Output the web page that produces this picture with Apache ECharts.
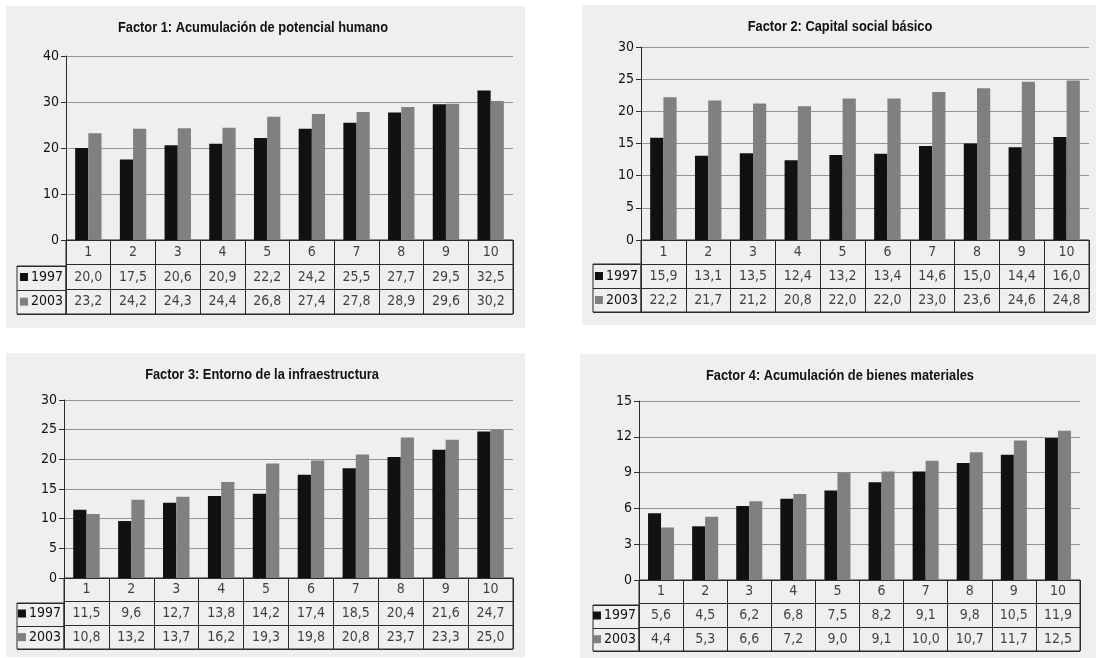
<!DOCTYPE html>
<html>
<head>
<meta charset="utf-8">
<title>Factores 1997 - 2003</title>
<script src="https://cdn.jsdelivr.net/npm/echarts@6/dist/echarts.min.js"></script>
<style>
  html, body { margin: 0; padding: 0; background: #ffffff; }
  #chart { width: 1096px; height: 658px; }
</style>
</head>
<body>
<div id="chart"></div>
<script>
// Decile groups shown on the category axis and in the table header row
const categories = ['1', '2', '3', '4', '5', '6', '7', '8', '9', '10'];
const seriesNames = ['1997', '2003'];

// Factor 1: Acumulación de potencial humano
const f1Title = 'Factor 1: Acumulación de potencial humano';
const f1_1997 = [20.0, 17.5, 20.6, 20.9, 22.2, 24.2, 25.5, 27.7, 29.5, 32.5];
const f1_2003 = [23.2, 24.2, 24.3, 24.4, 26.8, 27.4, 27.8, 28.9, 29.6, 30.2];
const f1Axis = { max: 40, interval: 10 };

// Factor 2: Capital social básico
const f2Title = 'Factor 2: Capital social básico';
const f2_1997 = [15.9, 13.1, 13.5, 12.4, 13.2, 13.4, 14.6, 15.0, 14.4, 16.0];
const f2_2003 = [22.2, 21.7, 21.2, 20.8, 22.0, 22.0, 23.0, 23.6, 24.6, 24.8];
const f2Axis = { max: 30, interval: 5 };

// Factor 3: Entorno de la infraestructura
const f3Title = 'Factor 3: Entorno de la infraestructura';
const f3_1997 = [11.5, 9.6, 12.7, 13.8, 14.2, 17.4, 18.5, 20.4, 21.6, 24.7];
const f3_2003 = [10.8, 13.2, 13.7, 16.2, 19.3, 19.8, 20.8, 23.7, 23.3, 25.0];
const f3Axis = { max: 30, interval: 5 };

// Factor 4: Acumulación de bienes materiales
const f4Title = 'Factor 4: Acumulación de bienes materiales';
const f4_1997 = [5.6, 4.5, 6.2, 6.8, 7.5, 8.2, 9.1, 9.8, 10.5, 11.9];
const f4_2003 = [4.4, 5.3, 6.6, 7.2, 9.0, 9.1, 10.0, 10.7, 11.7, 12.5];
const f4Axis = { max: 15, interval: 3 };

// ---- styling ----
const FONT = '"Liberation Sans Narrow", "Arial Narrow", "DejaVu Sans Condensed", sans-serif';
const TITLE_FONT = '"Liberation Sans", Arial, sans-serif';
const TEXT = '#111111';
const DARK = '#2b2b2b';
const GRIDLINE = '#939393';
const PANEL_BG = '#efefef';
const COLORS = ['#111111', '#808080'];

// Panel geometry (pixels): background box, plot area, table rows, title centre
const panels = [
  { title: f1Title, a: f1_1997, b: f1_2003, axis: f1Axis,
    bg: [6, 6, 519, 322], titleX: 253, titleY: 28,
    plot: { left: 66, top: 56, width: 447, height: 184 },
    table: { top: 240, rows: [26, 24, 24] }, labelLeft: 17 },
  { title: f2Title, a: f2_1997, b: f2_2003, axis: f2Axis,
    bg: [582, 5, 514, 320], titleX: 840, titleY: 27,
    plot: { left: 641, top: 47, width: 448, height: 193 },
    table: { top: 240, rows: [24, 25, 23] }, labelLeft: 593 },
  { title: f3Title, a: f3_1997, b: f3_2003, axis: f3Axis,
    bg: [6, 353, 519, 304], titleX: 262, titleY: 375,
    plot: { left: 64, top: 400, width: 449, height: 178 },
    table: { top: 578, rows: [25, 24, 22] }, labelLeft: 17 },
  { title: f4Title, a: f4_1997, b: f4_2003, axis: f4Axis,
    bg: [580, 354, 516, 304], titleX: 840, titleY: 376,
    plot: { left: 639, top: 401, width: 441, height: 179 },
    table: { top: 580, rows: [25, 24, 22] }, labelLeft: 593 }
];

const fmt = v => v.toFixed(1).replace('.', ',');

const option = {
  animation: false,
  backgroundColor: '#ffffff',
  textStyle: { fontFamily: FONT },
  grid: [],
  xAxis: [],
  yAxis: [],
  series: [],
  graphic: []
};

panels.forEach((p) => {
  const g0 = option.grid.length;

  // panel background
  option.graphic.push({
    type: 'rect', z: -10, silent: true,
    shape: { x: p.bg[0], y: p.bg[1], width: p.bg[2], height: p.bg[3] },
    style: { fill: PANEL_BG }
  });

  // panel title, horizontally condensed bold sans
  option.graphic.push({
    type: 'text', silent: true, z: 10,
    x: p.titleX, y: p.titleY, originX: 0, originY: 0, scaleX: 0.855,
    style: {
      text: p.title, fill: TEXT, align: 'center', verticalAlign: 'middle',
      font: 'bold 15px ' + TITLE_FONT
    }
  });

  const tableH = p.table.rows.reduce((s, r) => s + r, 0);
  const headerH = p.table.rows[0];

  // plot area
  option.grid.push({ left: p.plot.left, top: p.plot.top, width: p.plot.width, height: p.plot.height });
  // table body (header row + two data rows), aligned with the plot's categories
  option.grid.push({
    left: p.plot.left, top: p.table.top, width: p.plot.width, height: tableH,
    show: true, borderColor: DARK, borderWidth: 1, backgroundColor: 'transparent'
  });
  // legend column on the left of the two data rows
  option.grid.push({
    left: p.labelLeft, top: p.table.top + headerH,
    width: p.plot.left - p.labelLeft, height: tableH - headerH,
    show: true, borderColor: DARK, borderWidth: 1, backgroundColor: 'transparent'
  });

  // --- plot axes ---
  option.xAxis.push({
    type: 'category', gridIndex: g0, data: categories,
    axisLine: { show: true, lineStyle: { color: DARK, width: 1 } },
    axisTick: { show: false }, axisLabel: { show: false }, splitLine: { show: false }
  });
  option.yAxis.push({
    type: 'value', gridIndex: g0, min: 0, max: p.axis.max, interval: p.axis.interval,
    axisLine: { show: true, lineStyle: { color: DARK, width: 1 } },
    axisTick: { show: true, length: 5, lineStyle: { color: DARK } },
    axisLabel: { color: TEXT, fontSize: 14, fontFamily: FONT, margin: 7 },
    splitLine: { show: true, lineStyle: { color: GRIDLINE, width: 1 } }
  });

  // --- table axes ---
  option.xAxis.push({
    type: 'category', gridIndex: g0 + 1, data: categories,
    axisLine: { show: false }, axisTick: { show: false }, axisLabel: { show: false },
    splitLine: { show: true, interval: 0, lineStyle: { color: DARK, width: 1 } }
  });
  option.yAxis.push({
    type: 'category', gridIndex: g0 + 1, inverse: true,
    data: ['', seriesNames[0], seriesNames[1]],
    axisLine: { show: false }, axisTick: { show: false },
    splitLine: { show: true, interval: 0, lineStyle: { color: DARK, width: 1 } },
    axisLabel: {
      margin: 3, fontFamily: FONT, fontSize: 14, color: TEXT,
      formatter: v => v === '' ? '' : (v === seriesNames[0] ? '{k0|}' : '{k1|}') + '{t|' + v + '}',
      rich: {
        k0: { width: 8, height: 8, backgroundColor: COLORS[0] },
        k1: { width: 8, height: 8, backgroundColor: COLORS[1] },
        t: { fontFamily: FONT, fontSize: 14, color: TEXT, padding: [0, 0, 0, 3] }
      }
    }
  });

  // --- legend column axes ---
  option.xAxis.push({
    type: 'value', gridIndex: g0 + 2, show: false, min: 0, max: 1
  });
  option.yAxis.push({
    type: 'category', gridIndex: g0 + 2, data: ['a', 'b'],
    axisLine: { show: false }, axisTick: { show: false }, axisLabel: { show: false },
    splitLine: { show: true, interval: 0, lineStyle: { color: DARK, width: 1 } }
  });

  const ax = option.xAxis.length - 3;
  const ay = option.yAxis.length - 3;

  // bars
  [p.a, p.b].forEach((vals, k) => {
    option.series.push({
      type: 'bar', name: seriesNames[k], xAxisIndex: ax, yAxisIndex: ay,
      data: vals, barGap: 0, barCategoryGap: '41%',
      itemStyle: { color: COLORS[k] }, silent: true
    });
  });

  // table cell texts
  const cells = [];
  categories.forEach((c, ci) => {
    cells.push([ci, 0, c]);
    cells.push([ci, 1, fmt(p.a[ci])]);
    cells.push([ci, 2, fmt(p.b[ci])]);
  });
  option.series.push({
    type: 'scatter', xAxisIndex: ax + 1, yAxisIndex: ay + 1,
    data: cells, symbol: 'rect', symbolSize: 1, silent: true,
    itemStyle: { color: 'rgba(0,0,0,0)' },
    label: {
      show: true, position: 'inside', fontFamily: FONT, fontSize: 14, color: TEXT,
      formatter: d => d.value[2]
    }
  });
});

const chart = echarts.init(document.getElementById('chart'), null, { renderer: 'canvas' });
chart.setOption(option);
</script>
</body>
</html>
